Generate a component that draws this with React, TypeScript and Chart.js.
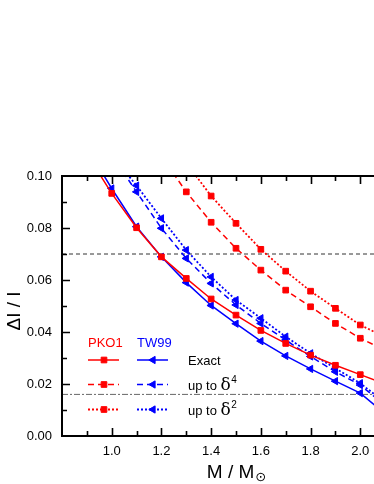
import React, { useEffect, useRef } from 'react';
import { Chart, registerables } from 'chart.js';

Chart.register(...registerables);

// ---- data ----
const MASS = [0.9, 1.0, 1.1, 1.2, 1.3, 1.4, 1.5, 1.6, 1.7, 1.8, 1.9, 2.0, 2.1];

const PKO1_EXACT = [0.1085, 0.0933, 0.0801, 0.0689, 0.0606, 0.0527, 0.0465, 0.0406, 0.0356, 0.0311, 0.0272, 0.0236, 0.0200];
const PKO1_D4 = [null, null, null, 0.1075, 0.0939, 0.0822, 0.0722, 0.0638, 0.0561, 0.0497, 0.0433, 0.0376, 0.0330];
const PKO1_D2 = [null, null, null, null, 0.1050, 0.0923, 0.0818, 0.0718, 0.0634, 0.0557, 0.0491, 0.0427, 0.0380];

const TW99_EXACT = [0.1110, 0.0952, 0.0805, 0.0689, 0.0590, 0.0502, 0.0432, 0.0365, 0.0308, 0.0258, 0.0211, 0.0165, 0.0085];
const TW99_D4 = [null, 0.1080, 0.0939, 0.0799, 0.0683, 0.0587, 0.0504, 0.0433, 0.0369, 0.0306, 0.0247, 0.0196, 0.0117];
const TW99_D2 = [null, 0.1080, 0.0963, 0.0837, 0.0715, 0.0612, 0.0523, 0.0453, 0.0382, 0.0318, 0.0260, 0.0203, 0.0128];

const REF_DASHED = 0.07;
const REF_DASHDOT = 0.016;

const X_MIN = 0.8;
const X_MAX = 2.2;
const Y_MIN = 0;
const Y_MAX = 0.1;

const X_LABELS = ['1.0', '1.2', '1.4', '1.6', '1.8', '2.0'];
const Y_LABELS = ['0.00', '0.02', '0.04', '0.06', '0.08', '0.10'];

const LEGEND_MODELS = ['PKO1', 'TW99'];
const LEGEND_ROWS = [
  { text: 'Exact', sup: '' },
  { text: 'up to ', greek: 'δ', sup: '4' },
  { text: 'up to ', greek: 'δ', sup: '2' },
];

const RED = '#ff0000';
const BLUE = '#0000ff';
const FONT = "'Liberation Sans', Arial, Helvetica, sans-serif";

const DASH_SOLID: number[] = [];
const DASH_DASHED = [6, 4];
const DASH_DOTTED = [2, 2];

function pts(vals: (number | null)[]) {
  return MASS.map((m, i) => ({ x: m, y: vals[i] }));
}

function series(vals: (number | null)[], color: string, dash: number[], tri: boolean, dotted = false) {
  return {
    data: pts(vals),
    borderColor: color,
    backgroundColor: color,
    borderWidth: dotted ? 1.8 : 1.5,
    borderDash: dash,
    pointStyle: tri ? 'triangle' : 'rect',
    pointRotation: tri ? -90 : 0,
    pointRadius: tri ? 4.2 : 4,
    pointBorderWidth: 1,
    pointBorderColor: color,
    pointBackgroundColor: color,
    spanGaps: false,
    tension: 0,
    clip: 0,
  };
}

function refLine(y: number, color: string, dash: number[]) {
  return {
    data: [{ x: X_MIN, y }, { x: X_MAX, y }],
    borderColor: color,
    borderWidth: 1,
    borderDash: dash,
    pointRadius: 0,
    clip: 0,
  };
}

function drawMarker(ctx: CanvasRenderingContext2D, tri: boolean, x: number, y: number, color: string) {
  ctx.save();
  ctx.setLineDash([]);
  ctx.fillStyle = color;
  ctx.strokeStyle = color;
  ctx.lineWidth = 1;
  ctx.beginPath();
  if (tri) {
    const r = 4.2;
    ctx.moveTo(x - r, y);
    ctx.lineTo(x + r / 2, y - r * 0.866);
    ctx.lineTo(x + r / 2, y + r * 0.866);
    ctx.closePath();
  } else {
    const s = 4 * Math.SQRT1_2;
    ctx.rect(x - s, y - s, 2 * s, 2 * s);
  }
  ctx.fill();
  ctx.stroke();
  ctx.restore();
}

const decorPlugin = {
  id: 'decor',
  afterDraw(chart: any) {
    const ctx: CanvasRenderingContext2D = chart.ctx;
    const xs = chart.scales.x;
    const ys = chart.scales.y;
    const { left, right, top, bottom } = chart.chartArea;

    ctx.save();
    // axis lines
    ctx.strokeStyle = '#000';
    ctx.lineWidth = 2;
    ctx.setLineDash([]);
    ctx.beginPath();
    ctx.moveTo(left, top - 1);
    ctx.lineTo(left, bottom + 1);
    ctx.moveTo(left - 1, bottom);
    ctx.lineTo(right, bottom);
    ctx.moveTo(left - 1, top);
    ctx.lineTo(right, top);
    ctx.stroke();

    // inward ticks
    ctx.lineWidth = 1.6;
    ctx.beginPath();
    for (let k = Math.round(X_MIN * 10) + 1; k < Math.round(X_MAX * 10); k++) {
      const px = Math.round(xs.getPixelForValue(k / 10)) + 0.5;
      const len = k % 2 === 0 ? 8 : 5;
      ctx.moveTo(px, bottom);
      ctx.lineTo(px, bottom - len);
      ctx.moveTo(px, top);
      ctx.lineTo(px, top + len);
    }
    for (let k = 1; k < 10; k++) {
      const py = Math.round(ys.getPixelForValue(k / 100)) + 0.5;
      const len = k % 2 === 0 ? 8 : 5;
      ctx.moveTo(left, py);
      ctx.lineTo(left + len, py);
    }
    ctx.stroke();

    // axis titles
    ctx.fillStyle = '#000';
    ctx.textBaseline = 'alphabetic';
    ctx.textAlign = 'left';
    const mainFont = `19px ${FONT}`;
    const subFont = `13px 'DejaVu Sans', ${FONT}`;
    ctx.font = mainFont;
    const t1 = 'M / M';
    const w1 = ctx.measureText(t1).width;
    ctx.font = subFont;
    const w2 = ctx.measureText('⊙').width;
    const cx = (left + right) / 2;
    const x0 = cx - (w1 + w2) / 2;
    ctx.font = mainFont;
    ctx.fillText(t1, x0, 478);
    ctx.font = subFont;
    ctx.fillText('⊙', x0 + w1 + 1, 481);

    ctx.save();
    ctx.translate(20, 311);
    ctx.rotate(-Math.PI / 2);
    ctx.font = mainFont;
    ctx.textAlign = 'center';
    ctx.fillText('ΔI / I', 0, 0);
    ctx.restore();

    // legend
    const colX = [88, 137];
    const colors = [RED, BLUE];
    ctx.font = `13px ${FONT}`;
    ctx.textAlign = 'left';
    LEGEND_MODELS.forEach((m, i) => {
      ctx.fillStyle = colors[i];
      ctx.fillText(m, colX[i], 347);
    });
    const rowY = [360, 384.5, 409.5];
    const dashes = [DASH_SOLID, DASH_DASHED, DASH_DOTTED];
    LEGEND_ROWS.forEach((row, r) => {
      const y = rowY[r];
      for (let i = 0; i < 2; i++) {
        ctx.save();
        ctx.strokeStyle = colors[i];
        ctx.lineWidth = r === 2 ? 1.8 : 1.5;
        ctx.setLineDash(dashes[r]);
        ctx.beginPath();
        ctx.moveTo(colX[i], y);
        ctx.lineTo(colX[i] + 31, y);
        ctx.stroke();
        ctx.restore();
        drawMarker(ctx, i === 1, colX[i] + 16, y, colors[i]);
      }
      ctx.fillStyle = '#000';
      ctx.font = `13px ${FONT}`;
      let tx = 188;
      const base = y + 5;
      ctx.fillText(row.text, tx, base);
      tx += ctx.measureText(row.text).width;
      if (row.greek) {
        ctx.font = `17px 'DejaVu Serif', serif`;
        ctx.fillText(row.greek, tx, base);
        tx += ctx.measureText(row.greek).width + 0.5;
        ctx.font = `10px ${FONT}`;
        ctx.fillText(row.sup, tx, base - 7);
      }
    });
    ctx.restore();
  },
};

export default function App() {
  const ref = useRef<HTMLCanvasElement | null>(null);

  useEffect(() => {
    if (!ref.current) return;
    const chart = new Chart(ref.current, {
      type: 'line',
      data: {
        datasets: [
          series(PKO1_EXACT, RED, DASH_SOLID, false),
          series(TW99_EXACT, BLUE, DASH_SOLID, true),
          series(PKO1_D4, RED, DASH_DASHED, false),
          series(TW99_D4, BLUE, DASH_DASHED, true),
          series(PKO1_D2, RED, DASH_DOTTED, false, true),
          series(TW99_D2, BLUE, DASH_DOTTED, true, true),
          refLine(REF_DASHED, '#333333', [4, 3]),
          refLine(REF_DASHDOT, '#666666', [6, 2, 2, 2]),
        ] as any,
      },
      options: {
        animation: false,
        responsive: false,
        devicePixelRatio: 1,
        events: [],
        layout: { padding: { left: 0, right: 30, top: 176, bottom: 0 } },
        plugins: { legend: { display: false }, tooltip: { enabled: false }, title: { display: false } },
        scales: {
          x: {
            type: 'linear',
            min: X_MIN,
            max: X_MAX,
            grid: { display: false, drawTicks: false },
            border: { display: false },
            afterFit: (s: any) => { s.height = 48; },
            ticks: {
              stepSize: 0.1,
              autoSkip: false,
              maxRotation: 0,
              padding: 8,
              color: '#000',
              font: { family: FONT, size: 13 },
              callback: (v: any) => {
                const lbl = Number(v).toFixed(1);
                return X_LABELS.includes(lbl) ? lbl : '';
              },
            },
          },
          y: {
            type: 'linear',
            min: Y_MIN,
            max: Y_MAX,
            grid: { display: false, drawTicks: false },
            border: { display: false },
            afterFit: (s: any) => { s.width = 62; },
            ticks: {
              stepSize: 0.01,
              autoSkip: false,
              padding: 10,
              color: '#000',
              font: { family: FONT, size: 13 },
              callback: (v: any) => {
                const lbl = Number(v).toFixed(2);
                return Y_LABELS.includes(lbl) ? lbl : '';
              },
            },
          },
        },
      },
      plugins: [decorPlugin],
    });
    return () => chart.destroy();
  }, []);

  return (
    <div style={{ position: 'fixed', left: 0, top: 0, width: 374, height: 484, overflow: 'hidden', background: '#fff' }}>
      <canvas ref={ref} width={440} height={484} style={{ display: 'block', width: 440, height: 484 }} />
    </div>
  );
}
